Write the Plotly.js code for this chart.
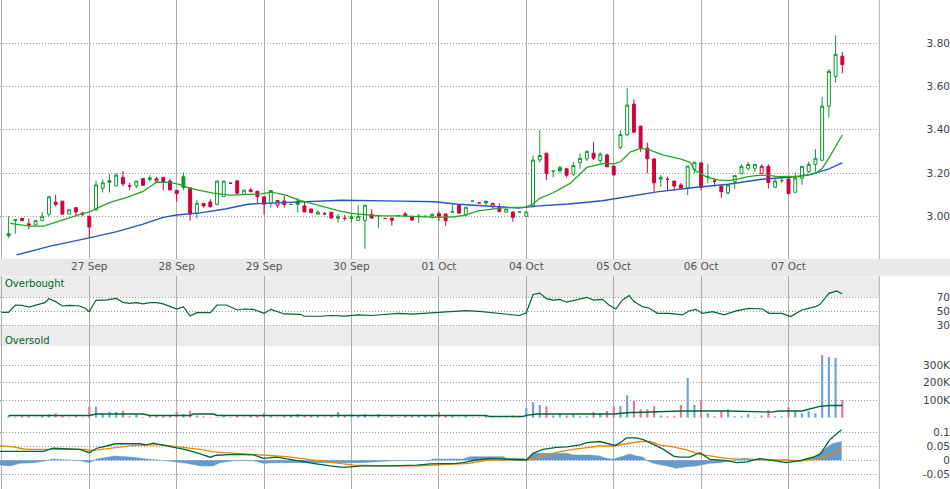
<!DOCTYPE html>
<html><head><meta charset="utf-8">
<script src="https://cdn.plot.ly/plotly-3.0.1.min.js"></script>
<style>html,body{margin:0;padding:0;background:#fff;}#chart{width:950px;height:489px;}</style>
</head><body><div id="chart"></div>
<script>
// ---- data ----
const dayLabels = ['', '27 Sep', '28 Sep', '29 Sep', '30 Sep', '01 Oct', '04 Oct', '05 Oct', '06 Oct', '07 Oct'];
const BARS_PER_DAY = 13;

const open = [2.92,2.98,2.99,2.965,2.96,2.98,3.01,3.065,3.07,3.01,
3.04,3.015,3.00,3.03,3.13,3.165,3.14,3.18,3.142,3.14,
3.174,3.17,3.163,3.18,3.163,3.12,3.183,3.132,3.014,3.06,
3.066,3.056,3.091,3.153,3.164,3.102,3.122,3.116,3.09,3.06,
3.051,3.071,3.055,3.071,3.048,3.034,3.01,3.011,3.019,2.991,
2.991,2.99,2.981,2.981,3.009,3.003,2.99,2.992,3.003,3.011,
3.0,3.0,3.0,2.995,3.012,3.011,3.02,3.053,3.005,3.07,
3.062,3.07,3.045,3.04,3.019,3.02,3.02,3.0,3.048,3.261,
3.292,3.209,3.226,3.22,3.195,3.248,3.265,3.292,3.257,3.283,
3.232,3.318,3.377,3.518,3.417,3.315,3.265,3.171,3.171,3.163,
3.145,3.13,3.217,3.247,3.183,3.163,3.14,3.109,3.16,3.197,
3.222,3.222,3.197,3.231,3.134,3.165,3.173,3.111,3.176,3.206,
3.24,3.259,3.509,3.647,3.74];
const high = [3.00,2.985,2.99,2.99,2.98,3.02,3.095,3.10,3.07,3.03,
3.04,3.02,3.00,3.165,3.17,3.195,3.20,3.21,3.155,3.163,
3.175,3.19,3.182,3.18,3.174,3.12,3.203,3.132,3.076,3.06,
3.079,3.163,3.163,3.153,3.164,3.121,3.13,3.116,3.09,3.119,
3.073,3.095,3.055,3.084,3.067,3.034,3.028,3.02,3.019,3.011,
3.006,3.008,3.051,3.051,3.033,3.003,2.99,2.992,3.003,3.02,
3.0,3.011,3.0,3.014,3.023,3.011,3.053,3.053,3.042,3.07,
3.062,3.07,3.06,3.06,3.034,3.02,3.02,3.02,3.281,3.398,
3.292,3.209,3.232,3.22,3.251,3.291,3.305,3.343,3.295,3.29,
3.232,3.398,3.592,3.54,3.417,3.34,3.27,3.19,3.183,3.163,
3.154,3.232,3.25,3.25,3.243,3.176,3.14,3.145,3.188,3.24,
3.251,3.24,3.24,3.24,3.18,3.176,3.175,3.202,3.231,3.253,
3.31,3.552,3.681,3.837,3.76];
const low = [2.90,2.92,2.98,2.94,2.96,2.98,3.00,3.045,3.01,3.01,
3.00,3.00,2.90,3.025,3.11,3.11,3.14,3.14,3.12,3.13,
3.14,3.16,3.16,3.12,3.12,3.068,3.12,2.98,2.99,3.04,
3.04,3.05,3.09,3.153,3.10,3.10,3.11,3.057,3.008,3.04,
3.04,3.04,3.055,3.017,3.02,3.017,3.01,3.011,2.99,2.97,
2.98,2.97,2.981,2.85,2.99,2.947,2.99,2.957,3.003,3.0,
2.978,2.97,3.0,2.989,2.978,2.957,3.017,3.01,3.0,3.07,
3.062,3.051,3.034,3.022,3.019,2.975,3.02,3.0,3.04,3.248,
3.168,3.18,3.20,3.18,3.186,3.22,3.255,3.26,3.246,3.229,
3.185,3.31,3.37,3.385,3.298,3.198,3.112,3.137,3.118,3.12,
3.13,3.098,3.198,3.119,3.153,3.139,3.086,3.10,3.126,3.197,
3.21,3.205,3.197,3.128,3.134,3.153,3.10,3.111,3.145,3.20,
3.206,3.255,3.456,3.619,3.661];
const close = [2.91,2.985,2.98,2.96,2.98,3.00,3.09,3.055,3.01,3.03,
3.02,3.01,2.95,3.145,3.155,3.157,3.19,3.15,3.14,3.163,
3.143,3.178,3.174,3.158,3.122,3.105,3.133,3.011,3.06,3.048,
3.045,3.163,3.163,3.153,3.107,3.121,3.115,3.091,3.056,3.119,
3.073,3.055,3.055,3.056,3.02,3.017,3.019,3.011,2.992,3.00,
2.99,2.998,3.00,3.051,2.992,3.003,2.99,2.981,3.003,3.0015,
2.983,3.0,3.0,3.009,3.0,2.98,3.02,3.015,3.042,3.07,
3.062,3.062,3.06,3.022,3.034,2.995,3.02,3.02,3.26,3.281,
3.197,3.209,3.211,3.19,3.235,3.268,3.30,3.269,3.288,3.229,
3.192,3.378,3.514,3.389,3.314,3.266,3.155,3.18,3.171,3.14,
3.13,3.232,3.25,3.134,3.183,3.163,3.114,3.145,3.188,3.231,
3.24,3.24,3.231,3.156,3.163,3.165,3.105,3.177,3.231,3.24,
3.268,3.509,3.67,3.749,3.701];
// volume in thousands of shares
const volumeK = [13,4,13,13,4,13,20,26,13,4,
13,4,62,62,26,34,34,40,9,19,
4,13,13,13,13,34,21,40,13,9,
4,4,13,4,13,4,13,13,26,13,
4,13,13,21,13,13,13,6,13,32,
13,21,13,21,4,21,4,13,4,13,
13,13,13,13,32,13,13,4,13,4,
4,13,4,4,4,13,4,55,89,72,
66,13,26,13,21,9,9,32,26,38,
66,66,129,95,49,49,66,13,9,9,
72,228,72,100,26,9,40,49,9,9,
21,4,13,44,9,9,61,38,26,38,
26,357,347,342,100];

// moving averages of price: [bar position, value]
const maFast = [[1.2,2.967],[4.1,2.955],[6.2,2.955],[9.6,2.99],[12.1,3.014],[13,3.02],[14.1,3.037],[16.1,3.064],[18.6,3.088],[21,3.115],[23,3.158],[25,3.157],[26.5,3.146],[28,3.129],[29.5,3.119],[31.4,3.107],[33.9,3.098],[36.2,3.102],[38.6,3.104],[40.1,3.112],[42.1,3.099],[44.1,3.076],[46.1,3.06],[48,3.045],[50,3.026],[52,3.014],[54,3.008],[56,3.002],[59,3.002],[62.9,2.998],[64.9,2.995],[67.4,2.998],[68.9,3.005],[70.8,3.025],[72.8,3.033],[74.8,3.04],[77.8,3.042],[79,3.057],[80,3.083],[82,3.109],[84.5,3.152],[87,3.226],[89.5,3.245],[91,3.242],[92,3.252],[93.5,3.298],[95,3.314],[96.4,3.306],[98.4,3.283],[100.9,3.266],[102.4,3.249],[103,3.214],[104,3.196],[105,3.179],[106.5,3.168],[108,3.165],[109.5,3.173],[111,3.183],[112.5,3.189],[114,3.189],[115.5,3.183],[117,3.185],[118.5,3.183],[120,3.191],[121.2,3.202],[122,3.222],[123,3.269],[124,3.323],[125,3.376]];
const maSlow = [[2.2,2.822],[7.2,2.862],[13,2.90],[17.1,2.929],[21,2.964],[24,2.995],[26,3.006],[29.5,3.016],[33.2,3.034],[36.6,3.056],[39.1,3.06],[43.1,3.064],[47.6,3.07],[50.5,3.074],[59.5,3.07],[64.4,3.067],[67.4,3.057],[71.8,3.048],[76.8,3.038],[79.8,3.048],[84.3,3.057],[89.3,3.072],[94.3,3.098],[97.7,3.114],[103,3.133],[108,3.148],[113,3.171],[118,3.183],[120.4,3.194],[123,3.219],[125,3.247]];

// RSI
const rsi = [[0,48.6],[1,48.6],[2,59],[3,58.6],[4,56.1],[5.6,60],[6.4,62.3],[7,68],[8,63.8],[9,57.6],[10,58.6],[11.6,57.6],[12.4,54.3],[13,49.5],[14,65.7],[15.6,66.2],[17,68.5],[18,62.8],[19,61.4],[20,62.3],[21,60.5],[22,62.3],[23,62.3],[24,60.5],[25,56.6],[26,53.3],[27,56.6],[28,43.3],[29,48],[31,48],[32,59],[33.4,59],[35,51.9],[36,53.3],[37.4,52.8],[39,47.1],[40,52.8],[41,49.5],[42,46.2],[44.4,45.7],[45,42.9],[47.4,42.9],[49,44],[51,43],[53,45],[55,44],[57,46],[59,47],[61,46],[63,47],[65,48],[67,50],[69,51],[71,50],[73,48],[75,46],[77,44],[78,48],[79,74],[80,76],[81,68],[82,66],[83,67],[84,63],[85,65],[86,68],[87,70],[88,66],[89.3,67.1],[90.3,59],[91.3,53.3],[92.3,66.2],[93.3,72.4],[94,63.8],[95.3,56.6],[96.3,54.3],[97.5,47.1],[99.2,47.1],[101.2,44.8],[102.2,50.5],[103.2,52.8],[104.2,47.1],[105.7,49.5],[107.4,44.8],[109.2,50.5],[111.1,54.3],[113.1,53.3],[114.1,47.1],[116,47.1],[117.3,42.4],[119,51.9],[121,56.6],[121.7,60],[123,75.7],[124.2,79],[125,74.7]];

// volume moving average (thousands)
const volMA = [[1,13],[13,13],[14,21],[21,21],[22,13],[28,13],[28.5,21],[31.5,21],[32,13],[72,13],[72.5,7],[77.5,7],[78,13],[79.5,21],[91,21],[93,28],[101,38],[108,38],[114.5,32],[115.5,38],[119,38],[120,47],[121.5,63],[123,70],[125,70]];

// MACD
const macd = [[-0.3,0.032],[6.2,0.032],[7.6,0.043],[11.6,0.039],[13,0.027],[14.1,0.043],[15.6,0.051],[16.8,0.059],[20.5,0.059],[21.5,0.055],[22.5,0.061],[24.5,0.051],[26,0.046],[27.5,0.037],[29.5,0.0225],[31,0.011],[31.9,0.018],[34.4,0.021],[37.4,0.019],[38.9,0.007],[40.9,0.011],[43.3,0.001],[44.3,-0.005],[46.3,-0.011],[48.8,-0.020],[50.8,-0.025],[53.7,-0.020],[57.7,-0.020],[61.7,-0.017],[63.7,-0.013],[67.6,-0.011],[68.6,-0.0085],[70.6,0.001],[72.6,0.007],[75.6,0.0035],[78,0.001],[79,0.025],[80.5,0.039],[82.5,0.046],[84,0.048],[86,0.055],[87,0.063],[88.9,0.067],[90.4,0.057],[91.2,0.053],[91.9,0.062],[92.9,0.080],[94.4,0.080],[95.4,0.074],[96.9,0.057],[98.4,0.039],[99.9,0.015],[100.8,0.011],[102.3,0.011],[103.8,0.027],[105.3,0.0035],[107.8,-0.0015],[109.3,-0.0085],[110.8,-0.006],[112.7,0.006],[114.7,-0.0025],[116.7,-0.0085],[118.7,-0.0015],[120.7,0.011],[121.7,0.022],[123.1,0.072],[124.1,0.094],[124.9,0.109]];
const signal = [[-0.3,0.051],[1.7,0.048],[2.7,0.043],[3.7,0.039],[12.6,0.039],[13,0.035],[14.1,0.037],[16.1,0.043],[17.6,0.048],[19.5,0.052],[23.5,0.056],[24.5,0.053],[26.5,0.048],[28.5,0.042],[30,0.037],[31.4,0.030],[34.4,0.025],[37.4,0.021],[39.4,0.019],[42.4,0.013],[44.3,0.007],[46.3,0.001],[49.3,-0.0085],[52.3,-0.017],[57.2,-0.020],[62.2,-0.020],[64.2,-0.017],[68.1,-0.013],[69.6,-0.011],[70.6,-0.006],[72.6,0.001],[78,0.001],[79,0.006],[81,0.019],[83,0.031],[85,0.039],[87,0.046],[88.9,0.051],[90.9,0.051],[92.9,0.060],[94.9,0.067],[96.4,0.067],[97.9,0.054],[99.9,0.048],[101.8,0.037],[103.8,0.021],[105.8,0.013],[107.8,0.007],[109.8,0.0035],[113.7,0.0035],[116.7,0.001],[118.7,-0.0025],[120.7,0.0035],[122.6,0.013],[123.6,0.025],[124.9,0.045]];
const hist = [[-0.3,-0.017],[1.2,-0.020],[2.7,-0.011],[4.7,-0.0085],[6.7,-0.0015],[7.6,0.0046],[11.6,-0.0015],[13,-0.0085],[14.1,0.0046],[15.6,0.011],[16.8,0.015],[19.5,0.011],[21.5,0.0046],[24.5,-0.0015],[26,-0.005],[27.5,-0.011],[29.5,-0.020],[31.4,-0.020],[32.4,-0.0085],[34.4,-0.0015],[37.4,-0.0015],[38.9,-0.011],[40.9,-0.0085],[43.3,-0.0085],[44.3,-0.011],[48.8,-0.011],[50.8,-0.011],[53.3,-0.0085],[58.2,-0.0015],[63.7,-0.001],[64,0.0046],[68.6,0.0046],[69.6,0.013],[74.6,0.013],[75,0.007],[77.5,0.007],[78,0],[79,0.025],[84,0.025],[85,0.019],[87.5,0.019],[88.9,0.015],[89.9,0.007],[90.9,0.0035],[91.9,0.011],[92.9,0.020],[93.4,0.022],[94.4,0.015],[95.4,0.011],[95.9,-0.0015],[96.9,-0.011],[98.9,-0.020],[100.3,-0.0285],[101.8,-0.023],[103.3,-0.020],[105.3,-0.011],[106.8,-0.0085],[108.8,0.001],[110.3,0.007],[112.7,0.0035],[114.7,0.001],[116.7,-0.0015],[118.7,-0.005],[119.7,0.007],[121.2,0.015],[122.6,0.045],[123.6,0.060],[124.9,0.067]];

// ---- build ----
const W = 950, H = 489;
const GREEN = '#0b9a2b', RED = '#d2003c';
const xs = close.map((_, i) => i + 1);
const up = close.map((c, i) => i === 0 || c >= close[i - 1]);
const sel = (arr, flag) => arr.filter((_, i) => up[i] === flag);
function candle(flag, col) {
  return {
    type: 'candlestick', xaxis: 'x', yaxis: 'y',
    x: sel(xs, flag), open: sel(open, flag), high: sel(high, flag), low: sel(low, flag), close: sel(close, flag),
    increasing: { line: { color: col, width: 1 }, fillcolor: '#ffffff' },
    decreasing: { line: { color: col, width: 1 }, fillcolor: col },
    whiskerwidth: 0, line: { width: 1 }, hoverinfo: 'skip', showlegend: false
  };
}
const line = (pts, ax, color, width) => ({
  type: 'scatter', mode: 'lines', xaxis: 'x', yaxis: ax,
  x: pts.map(p => p[0]), y: pts.map(p => p[1]),
  line: { color: color, width: width }, hoverinfo: 'skip', showlegend: false
});

const traces = [
  line(maSlow, 'y', '#2456c8', 1.4),
  line(maFast, 'y', '#1faa1f', 1.3),
  candle(true, GREEN),
  candle(false, RED),
  line(rsi, 'y2', '#006633', 1.2),
  {
    type: 'bar', xaxis: 'x', yaxis: 'y3', x: xs, y: volumeK.map(v => v * 1000), width: 0.32,
    marker: { color: up.map(u => u ? '#6fa3d6' : '#e27898'), line: { width: 0 } },
    hoverinfo: 'skip', showlegend: false
  },
  line(volMA.map(p => [p[0], p[1] * 1000]), 'y3', '#006633', 1.4),
  Object.assign(line(hist, 'y4', '#6699cc', 0.5), { fill: 'tozeroy', fillcolor: '#6699cc' }),
  line(signal, 'y4', '#ee8800', 1.3),
  line(macd, 'y4', '#006633', 1.3)
];

const dom = (topPx, botPx) => [1 - botPx / H, 1 - topPx / H];
const PLOT_R = 879.3;
const yCommon = {
  anchor: 'free', position: 1, side: 'left', showline: false, ticks: '', zeroline: false,
  showgrid: true, gridcolor: '#999999', griddash: '1px,2px', gridwidth: 1,
  tickfont: { family: 'DejaVu Sans, Verdana, sans-serif', size: 10.5, color: '#444' },
  fixedrange: true
};
const layout = {
  width: W, height: H, margin: { l: 0, r: 0, t: 0, b: 0 },
  paper_bgcolor: '#ffffff', plot_bgcolor: 'rgba(0,0,0,0)',
  showlegend: false, boxgap: 0.38,
  xaxis: {
    domain: [0, PLOT_R / W], range: [-0.28, 130.5], anchor: 'y',
    tickvals: dayLabels.map((_, i) => i * BARS_PER_DAY), ticktext: dayLabels,
    showgrid: true, gridcolor: '#adadad', gridwidth: 1, ticks: '', zeroline: false, showline: false,
    tickfont: { family: 'DejaVu Sans, Verdana, sans-serif', size: 10.5, color: '#555' },
    rangeslider: { visible: false }, fixedrange: true
  },
  yaxis: Object.assign({}, yCommon, { domain: dom(0, 258.7), range: [2.804, 4.0], tickvals: [3.0, 3.2, 3.4, 3.6, 3.8], ticktext: ['3.00', '3.20', '3.40', '3.60', '3.80'] }),
  yaxis2: Object.assign({}, yCommon, { domain: dom(276.3, 346.3), range: [0, 100], tickvals: [30, 50, 70], ticktext: ['30', '50', '70'] }),
  yaxis3: Object.assign({}, yCommon, { domain: dom(346.3, 417.7), range: [0, 408000], tickvals: [100000, 200000, 300000], ticktext: ['100K', '200K', '300K'] }),
  yaxis4: Object.assign({}, yCommon, { domain: dom(417.7, 489), range: [-0.1025, 0.152], tickvals: [-0.05, 0, 0.05, 0.1], ticktext: ['-0.05', '0', '0.05', '0.1'] }),
  shapes: [
    { type: 'rect', xref: 'paper', yref: 'paper', x0: 0, x1: 1, y0: 1 - 276.3 / H, y1: 1 - 258.7 / H, fillcolor: '#e9e9e9', line: { width: 0 }, layer: 'below' },
    { type: 'rect', xref: 'x domain', yref: 'y2', x0: 0, x1: 1, y0: 70, y1: 100, fillcolor: '#ececec', line: { width: 0 }, layer: 'below' },
    { type: 'rect', xref: 'x domain', yref: 'y2', x0: 0, x1: 1, y0: 0, y1: 30, fillcolor: '#ececec', line: { width: 0 }, layer: 'below' },
    { type: 'line', xref: 'x domain', yref: 'paper', x0: 1, x1: 1, y0: 1 - 258.7 / H, y1: 1, line: { color: '#adadad', width: 1 } },
    { type: 'line', xref: 'x domain', yref: 'paper', x0: 1, x1: 1, y0: 0, y1: 1 - 276.3 / H, line: { color: '#adadad', width: 1 } }
  ],
  annotations: [
    { text: 'Overbought', xref: 'paper', yref: 'paper', x: 3 / W, y: 1 - 283.5 / H, xanchor: 'left', yanchor: 'middle', showarrow: false, font: { family: 'DejaVu Sans, Verdana, sans-serif', size: 10, color: '#006633' } },
    { text: 'Oversold', xref: 'paper', yref: 'paper', x: 3 / W, y: 1 - 340 / H, xanchor: 'left', yanchor: 'middle', showarrow: false, font: { family: 'DejaVu Sans, Verdana, sans-serif', size: 10, color: '#006633' } }
  ]
};
Plotly.newPlot('chart', traces, layout, { staticPlot: true, displayModeBar: false });
</script></body></html>
